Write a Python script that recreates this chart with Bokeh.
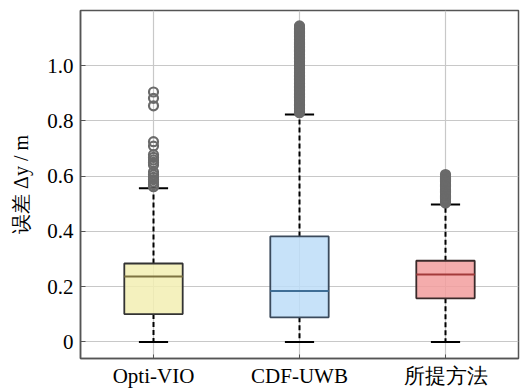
from bokeh.plotting import figure
from bokeh.models import ColumnDataSource, FixedTicker, FactorRange, Range1d
from bokeh.transform import dodge
from bokeh.embed import file_html
from bokeh.resources import INLINE

categories = ["Opti-VIO", "CDF-UWB", "所提方法"]
q1 = [0.101, 0.089, 0.158]
median = [0.237, 0.184, 0.244]
q3 = [0.284, 0.382, 0.294]
lower = [0.0, 0.0, 0.0]
upper = [0.556, 0.823, 0.498]

outliers_opti = [0.905, 0.882, 0.855, 0.725, 0.709, 0.678, 0.668, 0.659, 0.650,
                 0.641, 0.615, 0.605, 0.596, 0.588, 0.579, 0.570, 0.562]
outliers_cdf = [0.830, 0.835, 0.840, 0.846, 0.851, 0.855, 0.860, 0.865, 0.869,
                0.875, 0.880, 0.884, 0.889, 0.895, 0.900, 0.905, 0.911, 0.915,
                0.920, 0.925, 0.930, 0.936, 0.941, 0.945, 0.950, 0.955, 0.961,
                0.965, 0.970, 0.976, 0.981, 0.985, 0.990, 0.995, 1.000, 1.005,
                1.010, 1.015, 1.021, 1.025, 1.030, 1.035, 1.040, 1.046, 1.051,
                1.055, 1.060, 1.065, 1.070, 1.076, 1.081, 1.085, 1.090, 1.095,
                1.100, 1.105, 1.110, 1.116, 1.121, 1.125, 1.130, 1.135, 1.140,
                1.144]
outliers_ours = [0.503, 0.508, 0.514, 0.518, 0.522, 0.527, 0.531, 0.536, 0.540,
                 0.545, 0.549, 0.553, 0.557, 0.562, 0.566, 0.571, 0.575, 0.580,
                 0.584, 0.588, 0.592, 0.596, 0.600, 0.606]
y_ticks = [0, 0.2, 0.4, 0.6, 0.8, 1.0]
y_tick_labels = ["0", "0.2", "0.4", "0.6", "0.8", "1.0"]

fill_colors = ["#F2EEB3", "#BDDDF8", "#F29D9D"]
edge_colors = ["#333333", "#3b4a5c", "#3a2a2a"]
median_colors = ["#7d7340", "#3f6e96", "#a33a3a"]

src = ColumnDataSource(dict(cat=categories, q1=q1, med=median, q3=q3,
                            lo=lower, up=upper, fill=fill_colors,
                            edge=edge_colors, medc=median_colors))

out_cat = ([categories[0]] * len(outliers_opti) + [categories[1]] * len(outliers_cdf)
           + [categories[2]] * len(outliers_ours))
out_val = outliers_opti + outliers_cdf + outliers_ours
out_src = ColumnDataSource(dict(cat=out_cat, val=out_val))

FONT = "Liberation Serif"

p = figure(width=520, height=390, x_range=FactorRange(*categories),
           y_range=Range1d(-0.06, 1.2), output_backend="svg",
           toolbar_location=None, min_border_left=80, min_border_right=2,
           min_border_top=10, min_border_bottom=30)

p.background_fill_color = "white"
p.border_fill_color = "white"
p.outline_line_color = "#555555"
p.outline_line_width = 1.5

# whiskers
p.segment(x0="cat", y0="q3", x1="cat", y1="up", source=src, line_color="black",
          line_width=2, line_dash="5 3")
p.segment(x0="cat", y0="q1", x1="cat", y1="lo", source=src, line_color="black",
          line_width=2, line_dash="5 3")
# caps
p.segment(x0=dodge("cat", -0.1, range=p.x_range), y0="up",
          x1=dodge("cat", 0.1, range=p.x_range), y1="up", source=src,
          line_color="black", line_width=2)
p.segment(x0=dodge("cat", -0.1, range=p.x_range), y0="lo",
          x1=dodge("cat", 0.1, range=p.x_range), y1="lo", source=src,
          line_color="black", line_width=2)
# outliers
p.scatter(x="cat", y="val", source=out_src, size=9, marker="circle",
          fill_color=None, line_color="#6a6a6a", line_width=2.2)
# boxes
p.vbar(x="cat", bottom="q1", top="q3", width=0.4, source=src,
       fill_color="fill", fill_alpha=0.85, line_color="edge", line_width=1.8)
# medians
p.segment(x0=dodge("cat", -0.2, range=p.x_range), y0="med",
          x1=dodge("cat", 0.2, range=p.x_range), y1="med", source=src,
          line_color="medc", line_width=2)

p.grid.grid_line_color = "#c8c8c8"
p.grid.grid_line_width = 1.2

p.yaxis.ticker = FixedTicker(ticks=y_ticks)
p.yaxis.major_label_overrides = dict(zip(y_ticks, y_tick_labels))
p.yaxis.minor_tick_line_color = None
p.yaxis.major_tick_in = 5
p.yaxis.major_tick_out = 0
p.yaxis.major_label_standoff = 7
p.yaxis.axis_label = "误差 Δy / m"
p.yaxis.axis_label_standoff = 12
p.yaxis.axis_label_text_font_style = "normal"

p.xaxis.major_tick_in = 4
p.xaxis.major_tick_out = 0
p.xaxis.major_label_standoff = 5

for ax in (p.xaxis[0], p.yaxis[0]):
    ax.axis_line_color = "#555555"
    ax.axis_line_width = 1.5
    ax.major_tick_line_color = "#555555"
    ax.major_label_text_font = FONT
    ax.major_label_text_font_size = "21px"
    ax.major_label_text_font_style = "normal"
    ax.major_label_text_color = "black"
    ax.axis_label_text_font = FONT
    ax.axis_label_text_font_size = "20px"
    ax.axis_label_text_color = "black"

open("out.html", "w").write(file_html(p, INLINE))
